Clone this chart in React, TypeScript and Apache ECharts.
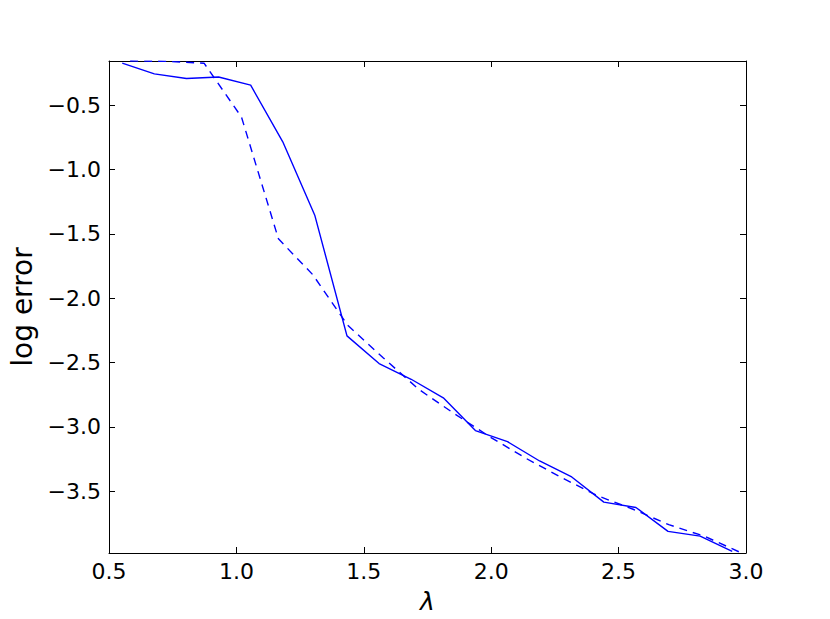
import React, { useEffect, useRef } from "react";
import * as echarts from "echarts";

const solidX = [0.552, 0.678, 0.804, 0.930, 1.056, 1.182, 1.308, 1.434, 1.560, 1.686, 1.812, 1.938, 2.064, 2.190, 2.316, 2.442, 2.568, 2.694, 2.820, 2.946];
const solidY = [-0.174, -0.257, -0.293, -0.281, -0.345, -0.785, -1.358, -2.293, -2.508, -2.63, -2.774, -3.029, -3.115, -3.265, -3.389, -3.585, -3.626, -3.812, -3.849, -3.967];

const dashedX = [0.583, 0.728, 0.873, 1.020, 1.165, 1.300, 1.437, 1.577, 1.717, 1.857, 1.997, 2.137, 2.277, 2.417, 2.557, 2.697, 2.837, 2.977];
const dashedY = [-0.157, -0.160, -0.174, -0.593, -1.539, -1.818, -2.211, -2.465, -2.71, -2.90, -3.08, -3.245, -3.395, -3.535, -3.64, -3.76, -3.85, -3.975];

const xTicks = [0.5, 1.0, 1.5, 2.0, 2.5, 3.0];
const yTicks = [-3.5, -3.0, -2.5, -2.0, -1.5, -1.0, -0.5];

const X_MIN = 0.5;
const X_MAX = 3.0;
const Y_MIN = -3.98;
const Y_MAX = -0.157;

const FONT = "DejaVu Sans";

const fmt = (v: number) => (v < 0 ? "\u2212" : "") + Math.abs(v).toFixed(1);

export default function App() {
  const ref = useRef<HTMLDivElement>(null);

  useEffect(() => {
    document.body.style.margin = "0";
    const chart = echarts.init(ref.current!, null, { renderer: "svg" });
    const lineAxis = { show: true, onZero: false, lineStyle: { color: "#000", width: 1 } };
    const tick = { show: true, inside: true, length: 6, lineStyle: { color: "#000", width: 1 } };
    chart.setOption({
      animation: false,
      backgroundColor: "#fff",
      grid: { left: 104, right: 84, top: 61, bottom: 63, containLabel: false },
      xAxis: [
        {
          type: "value",
          position: "bottom",
          min: X_MIN,
          max: X_MAX,
          axisLine: lineAxis,
          axisTick: { ...tick, customValues: xTicks },
          axisLabel: { customValues: xTicks, formatter: fmt, color: "#000", fontSize: 22, fontFamily: FONT, margin: 7 },
          splitLine: { show: false },
          name: "λ",
          nameLocation: "middle",
          nameGap: 36,
          nameTextStyle: { color: "#000", fontSize: 25, fontFamily: FONT, fontStyle: "italic" },
        },
        {
          type: "value",
          position: "top",
          min: X_MIN,
          max: X_MAX,
          axisLine: lineAxis,
          axisTick: { ...tick, customValues: xTicks },
          axisLabel: { show: false },
          splitLine: { show: false },
        },
      ],
      yAxis: [
        {
          type: "value",
          position: "left",
          min: Y_MIN,
          max: Y_MAX,
          axisLine: lineAxis,
          axisTick: { ...tick, customValues: yTicks },
          axisLabel: { customValues: yTicks, formatter: fmt, color: "#000", fontSize: 22, fontFamily: FONT, margin: 8 },
          splitLine: { show: false },
          name: "log error",
          nameLocation: "middle",
          nameGap: 73,
          nameTextStyle: { color: "#000", fontSize: 28, fontFamily: FONT },
        },
        {
          type: "value",
          position: "right",
          min: Y_MIN,
          max: Y_MAX,
          axisLine: lineAxis,
          axisTick: { ...tick, customValues: yTicks },
          axisLabel: { show: false },
          splitLine: { show: false },
        },
      ],
      series: [
        {
          type: "line",
          xAxisIndex: 0,
          yAxisIndex: 0,
          data: solidX.map((x, i) => [x, solidY[i]]),
          symbol: "none",
          clip: true,
          lineStyle: { color: "#0000ff", width: 1.4 },
        },
        {
          type: "line",
          xAxisIndex: 0,
          yAxisIndex: 0,
          data: dashedX.map((x, i) => [x, dashedY[i]]),
          symbol: "none",
          clip: true,
          lineStyle: { color: "#0000ff", width: 1.4, type: [8, 6] },
        },
      ],
    });
    return () => chart.dispose();
  }, []);

  return <div ref={ref} style={{ width: 830, height: 619 }} />;
}
